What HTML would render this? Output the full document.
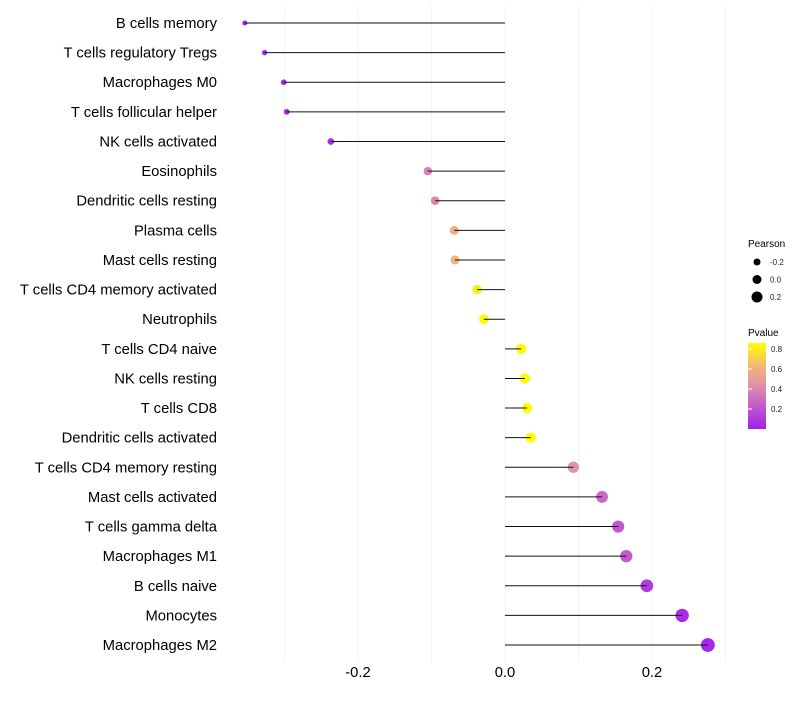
<!DOCTYPE html>
<html><head><meta charset="utf-8"><style>
body{margin:0;background:#fff;font-family:"Liberation Sans",sans-serif}
svg text{font-family:"Liberation Sans",sans-serif}
</style></head><body>
<svg id="chart" width="800" height="700" xmlns="http://www.w3.org/2000/svg">
<defs><linearGradient id="pg" x1="0" y1="1" x2="0" y2="0">
<stop offset="0" stop-color="#A020F0"/><stop offset="0.3" stop-color="#C862C8"/>
<stop offset="0.5" stop-color="#DE8FA8"/><stop offset="0.72" stop-color="#F2B47A"/>
<stop offset="1" stop-color="#FFFF00"/></linearGradient></defs>
<g id="grid"></g><g id="marks"></g><g id="labels"></g>
<g>
<text x="748" y="247" font-size="10">Pearson</text>
<g id="sizeleg"></g>
<text x="748" y="336" font-size="10">Pvalue</text>
<rect x="748" y="343" width="18" height="86" fill="url(#pg)"/>
<g id="colleg"></g>
</g>
</svg>
<script>
const categories=["B cells memory","T cells regulatory  Tregs","Macrophages M0","T cells follicular helper","NK cells activated","Eosinophils","Dendritic cells resting","Plasma cells","Mast cells resting","T cells CD4 memory activated","Neutrophils","T cells CD4 naive","NK cells resting","T cells CD8","Dendritic cells activated","T cells CD4 memory resting","Mast cells activated","T cells gamma delta","Macrophages M1","B cells naive","Monocytes","Macrophages M2"];
const pearson=[-0.354,-0.327,-0.301,-0.297,-0.237,-0.105,-0.095,-0.069,-0.068,-0.038,-0.029,0.022,0.027,0.030,0.035,0.093,0.132,0.154,0.165,0.193,0.241,0.276];
const pvalue=[0.01,0.02,0.03,0.03,0.05,0.38,0.4,0.6,0.62,0.8,0.85,0.85,0.85,0.85,0.85,0.45,0.28,0.22,0.22,0.1,0.05,0.03];
const xTicks=[-0.2,0.0,0.2];
const xGrid=[-0.3,-0.2,-0.1,0,0.1,0.2,0.3];
const sizeLegend=[-0.2,0.0,0.2];
const colorTicks=[0.2,0.4,0.6,0.8];
const NS="http://www.w3.org/2000/svg";
const X=v=>505+v*735, Y=i=>23+i*29.62, R=v=>Math.max(1.5,5+7*v);
const RL=v=>4.5+5*v;
const pMin=0.0,pMax=0.86;
const CY=p=>429-(p-pMin)/(pMax-pMin)*86;
const stops=[[0,[160,32,240]],[0.3,[200,98,200]],[0.5,[222,143,168]],[0.72,[242,180,122]],[1,[255,255,0]]];
function col(p){let t=Math.max(0,Math.min(1,(p-pMin)/(pMax-pMin)));for(let k=1;k<stops.length;k++){if(t<=stops[k][0]){const a=stops[k-1],b=stops[k],u=(t-a[0])/(b[0]-a[0]);return "rgb("+a[1].map((c,j)=>Math.round(c+(b[1][j]-c)*u)).join(",")+")";}}return "rgb(255,255,0)";}
function mk(t,a,p){const e=document.createElementNS(NS,t);for(const k in a)e.setAttribute(k,a[k]);p.appendChild(e);return e;}
const g=document.getElementById("grid"),m=document.getElementById("marks"),l=document.getElementById("labels");
xGrid.forEach(v=>{const e=mk("line",{x1:X(v),x2:X(v),y1:5,y2:662,stroke:"#f3f3f3","stroke-width":1},g);

});
xTicks.forEach(v=>{const e=mk("text",{x:X(v),y:677,"font-size":14.8,"text-anchor":"middle",fill:"#000"},l);e.textContent=v.toFixed(1);

});
categories.forEach((c,i)=>{
const t=mk("text",{x:217,y:Y(i)+5,"font-size":14.8,"text-anchor":"end",fill:"#000"},l);t.textContent=c;


const d=mk("circle",{cx:X(pearson[i]),cy:Y(i),r:R(pearson[i]),fill:col(pvalue[i])},m);


const s=mk("line",{x1:X(pearson[i]),x2:X(0),y1:Y(i),y2:Y(i),stroke:"#111","stroke-width":1},m);


});
const sl=document.getElementById("sizeleg");
sizeLegend.forEach((v,k)=>{const y=262+k*17.5;
const c=mk("circle",{cx:757,cy:y,r:RL(v),fill:"#000"},sl);


const t=mk("text",{x:770,y:y+3,"font-size":8,fill:"#222"},sl);t.textContent=v.toFixed(1);

});
const cl=document.getElementById("colleg");
colorTicks.forEach(p=>{const y=CY(p);
const k=mk("line",{x1:748,x2:752,y1:y,y2:y,stroke:"#fff"},cl);


const t=mk("text",{x:771,y:y+3,"font-size":8,fill:"#222"},cl);t.textContent=p.toFixed(1);

});
</script>
</body></html>
